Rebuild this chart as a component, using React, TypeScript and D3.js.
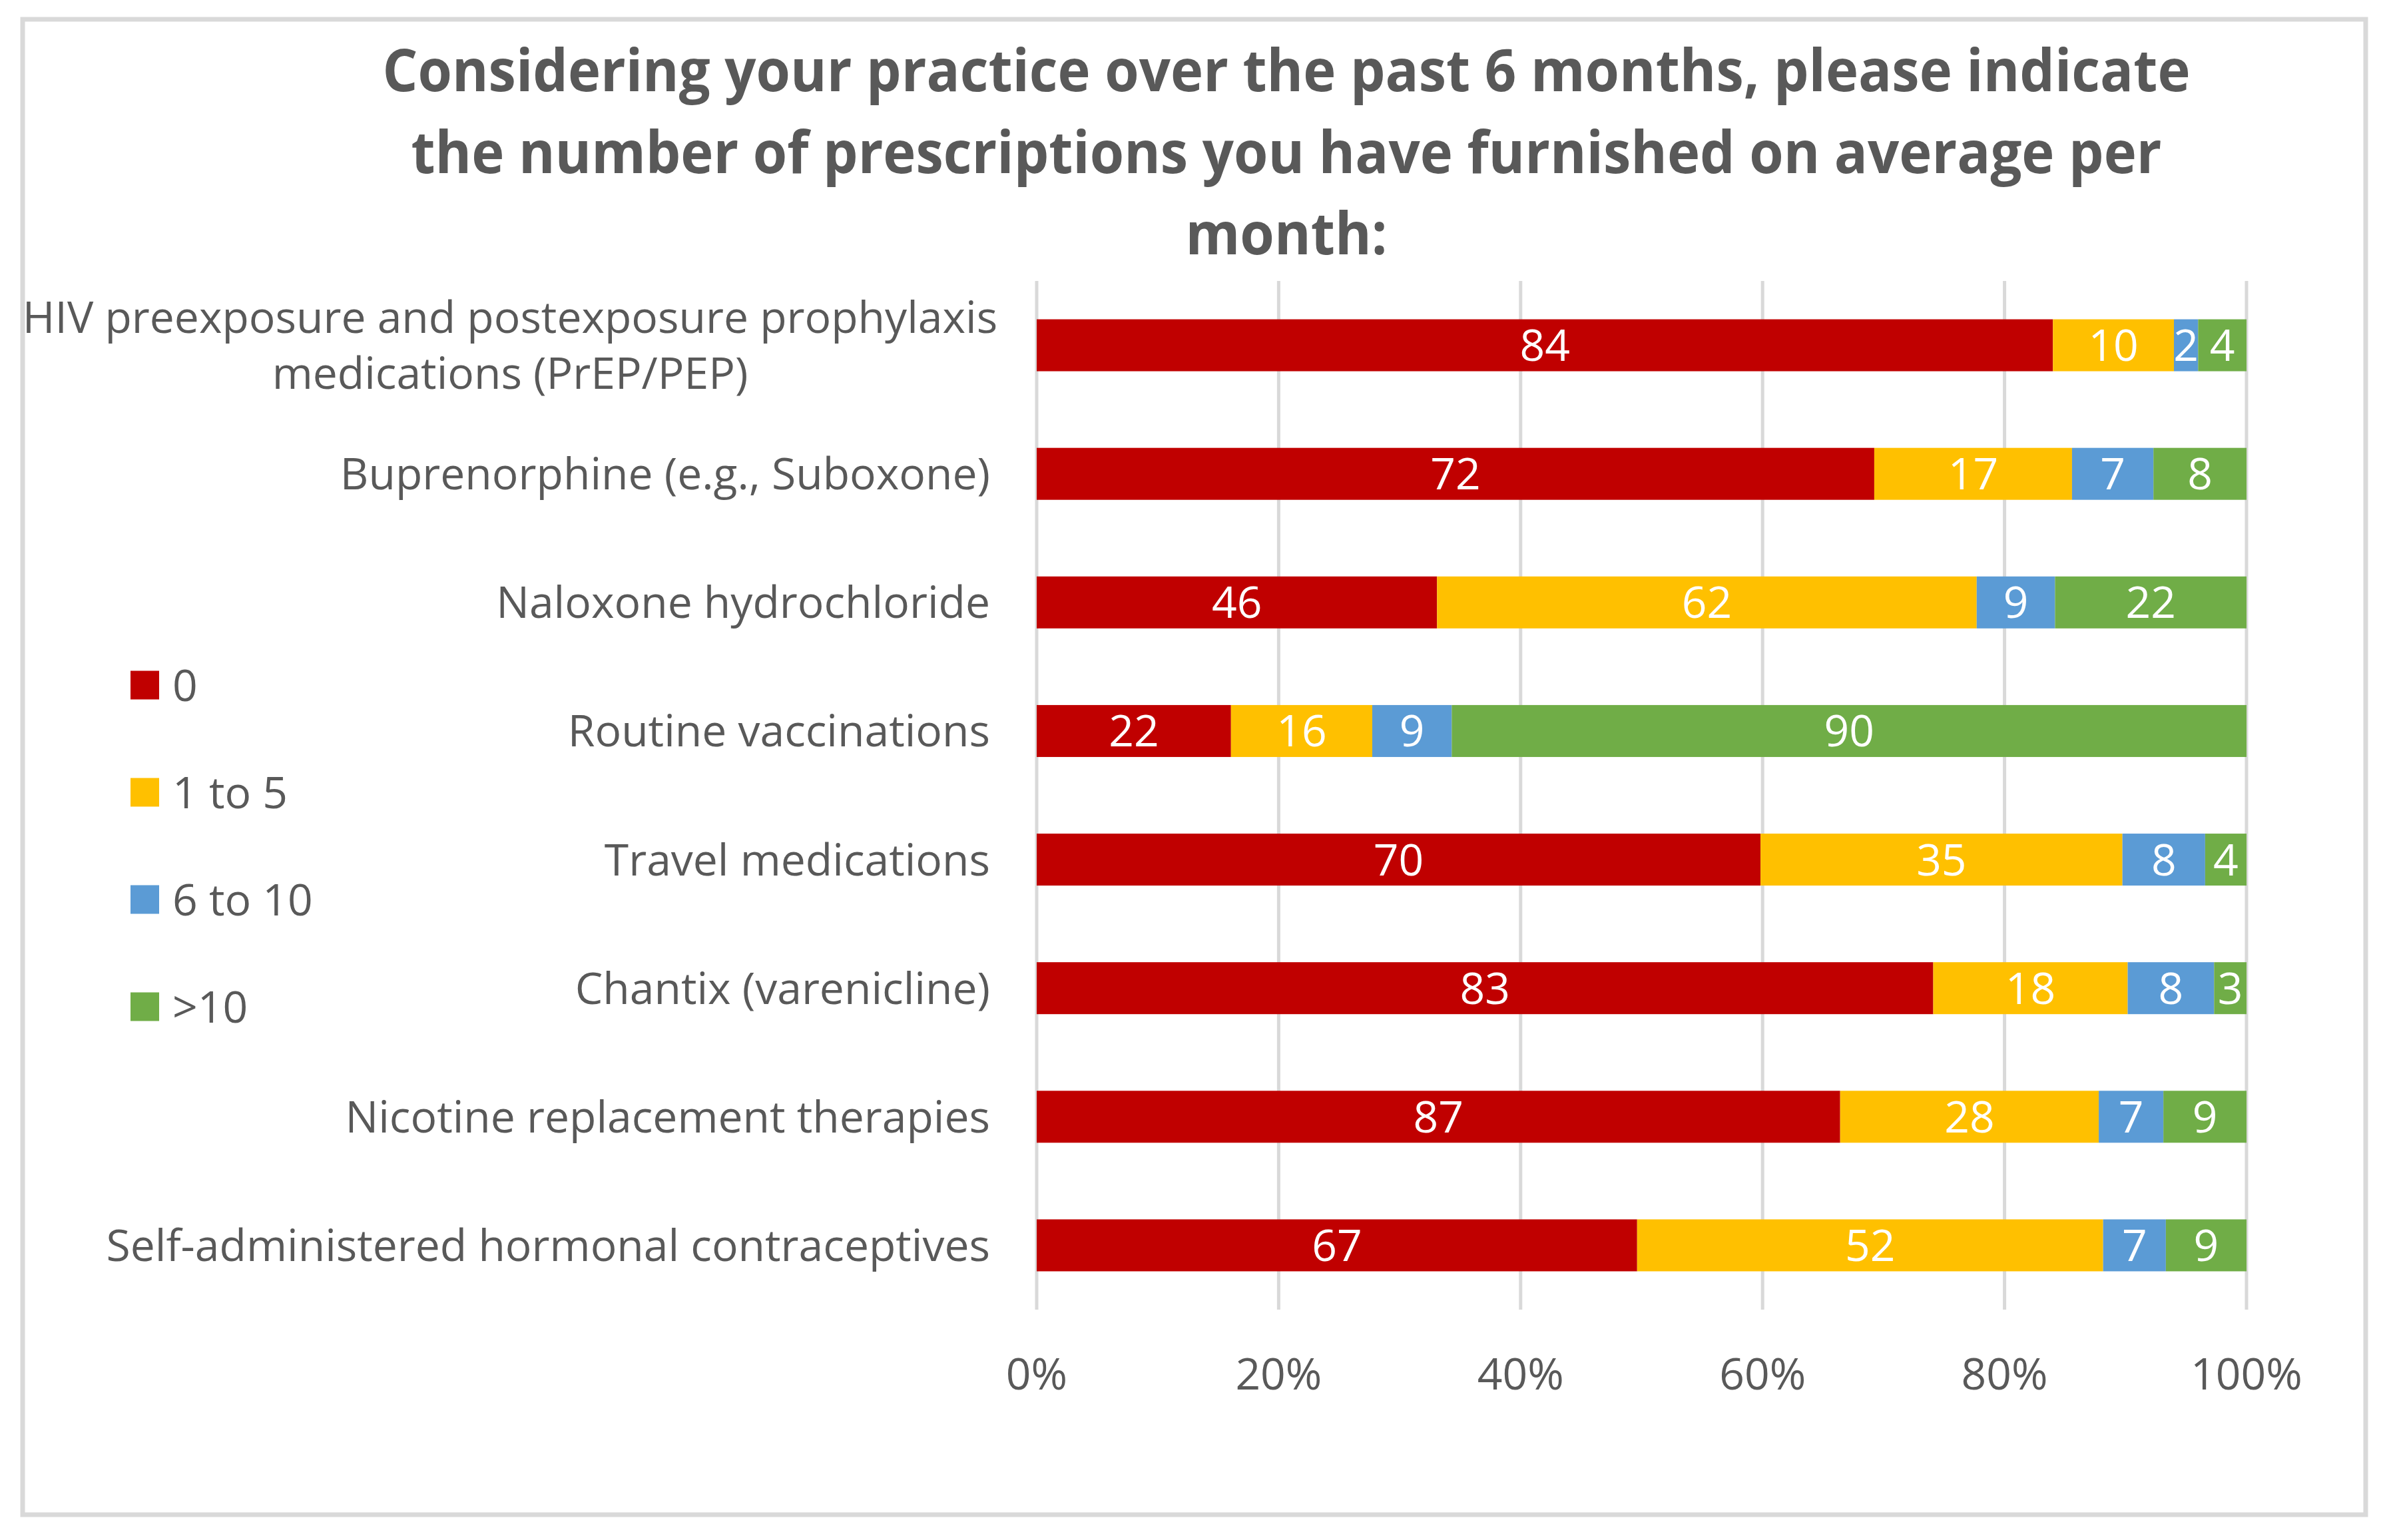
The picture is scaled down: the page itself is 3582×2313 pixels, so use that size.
import React from "react";
import * as d3 from "d3";

const categories = [
  "HIV preexposure and postexposure prophylaxis medications (PrEP/PEP)",
  "Buprenorphine (e.g., Suboxone)",
  "Naloxone hydrochloride",
  "Routine vaccinations",
  "Travel medications",
  "Chantix (varenicline)",
  "Nicotine replacement therapies",
  "Self-administered hormonal contraceptives",
];
const categoryLines = [
  ["HIV preexposure and postexposure prophylaxis", "medications (PrEP/PEP)"],
  ["Buprenorphine (e.g., Suboxone)"],
  ["Naloxone hydrochloride"],
  ["Routine vaccinations"],
  ["Travel medications"],
  ["Chantix (varenicline)"],
  ["Nicotine replacement therapies"],
  ["Self-administered hormonal contraceptives"],
];
const seriesNames = ["0", "1 to 5", "6 to 10", ">10"];
const seriesColors = ["#C00000", "#FFC000", "#5B9BD5", "#70AD47"];
const zeroValues = [84, 72, 46, 22, 70, 83, 87, 67];
const oneToFiveValues = [10, 17, 62, 16, 35, 18, 28, 52];
const sixToTenValues = [2, 7, 9, 9, 8, 8, 7, 7];
const overTenValues = [4, 8, 22, 90, 4, 3, 9, 9];
const xTicks = [0, 0.2, 0.4, 0.6, 0.8, 1];
const titleLines = [
  "Considering your practice over the past 6 months, please indicate",
  "the number of prescriptions you have furnished on average per",
  "month:",
];
const titleWidths = [2715, 2629, 303];

const FONT = "'Open Sans', 'Noto Sans', sans-serif";
const GRAY = "#595959";
const LS = 66;
const CAP = 0.714;

export default function App() {
  const W = 3582;
  const H = 2313;
  const x = d3.scaleLinear().domain([0, 1]).range([1557, 3374]);
  const y = d3
    .scaleBand<string>()
    .domain(categories)
    .range([422, 1967])
    .paddingInner(0.596)
    .paddingOuter(0.298);

  const keys = seriesNames;
  const rows = categories.map((c, i) => ({
    cat: c,
    "0": zeroValues[i],
    "1 to 5": oneToFiveValues[i],
    "6 to 10": sixToTenValues[i],
    ">10": overTenValues[i],
  }));
  const stacked = d3
    .stack<any>()
    .keys(keys)
    .offset(d3.stackOffsetExpand)(rows);

  const capOff = (LS * CAP) / 2;

  return (
    <svg
      width={W}
      height={H}
      style={{ position: "absolute", left: 0, top: 0, background: "#fff" }}
      fontFamily={FONT}
    >
      <rect x={0} y={0} width={W} height={H} fill="#fff" />
      <rect x={34} y={29} width={3519} height={2246} fill="#fff" stroke="#D9D9D9" strokeWidth={7} />

      {titleLines.map((t, i) => (
        <text
          key={i}
          x={1932}
          y={137 + i * 122.5}
          textAnchor="middle"
          fontSize={88}
          fontWeight={700}
          fill={GRAY}
          textLength={titleWidths[i]}
          lengthAdjust="spacingAndGlyphs"
        >
          {t}
        </text>
      ))}

      {xTicks.map((t) => (
        <line
          key={"g" + t}
          x1={x(t)}
          x2={x(t)}
          y1={422}
          y2={1967}
          stroke="#D9D9D9"
          strokeWidth={5}
        />
      ))}

      {stacked.map((s, si) =>
        s.map((d, di) => {
          const cat = categories[di];
          const y0 = y(cat)!;
          const bw = y.bandwidth();
          const x0 = x(d[0]);
          const x1 = x(d[1]);
          const v = (d.data as any)[keys[si]];
          return (
            <g key={si + "-" + di}>
              <rect x={x0} y={y0} width={x1 - x0} height={bw} fill={seriesColors[si]} />
              <text
                x={(x0 + x1) / 2}
                y={y0 + bw / 2 + capOff}
                textAnchor="middle"
                fontSize={LS}
                fill="#fff"
              >
                {v}
              </text>
            </g>
          );
        })
      )}

      {xTicks.map((t) => (
        <text
          key={"t" + t}
          x={x(t)}
          y={2087}
          textAnchor="middle"
          fontSize={LS}
          fill={GRAY}
        >
          {d3.format(".0%")(t)}
        </text>
      ))}

      {categories.map((c, i) => {
        const lines = categoryLines[i];
        const cy = y(c)! + y.bandwidth() / 2;
        if (lines.length === 1) {
          return (
            <text key={c} x={1487} y={cy + capOff} textAnchor="end" fontSize={LS} fill={GRAY}>
              {lines[0]}
            </text>
          );
        }
        return (
          <text key={c} textAnchor="middle" fontSize={LS} fill={GRAY}>
            {lines.map((l, li) => (
              <tspan key={li} x={766} y={cy + capOff + (li - (lines.length - 1) / 2) * 84}>
                {l}
              </tspan>
            ))}
          </text>
        );
      })}

      {seriesNames.map((n, i) => {
        const cy = 1029 + i * 161;
        return (
          <g key={n}>
            <rect x={196} y={cy - 21.5} width={43} height={43} fill={seriesColors[i]} />
            <text x={259} y={cy + capOff} fontSize={LS} fill={GRAY}>
              {n}
            </text>
          </g>
        );
      })}
    </svg>
  );
}
